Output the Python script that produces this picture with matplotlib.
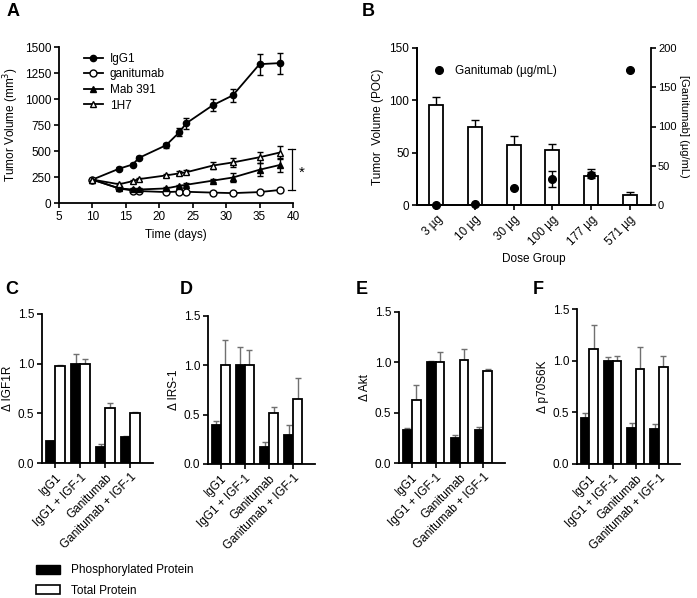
import matplotlib
matplotlib.use("Agg")
import matplotlib.pyplot as plt
from matplotlib.patches import Patch
from matplotlib.lines import Line2D
import numpy as np

plt.rcParams['font.family'] = ['Liberation Sans', 'DejaVu Sans']
plt.rcParams['font.size'] = 8.5
plt.rcParams['axes.linewidth'] = 1.3
plt.rcParams['xtick.major.width'] = 1.2
plt.rcParams['ytick.major.width'] = 1.2
plt.rcParams['xtick.major.size'] = 3.5
plt.rcParams['ytick.major.size'] = 3.5
plt.rcParams['xtick.major.pad'] = 2.5
plt.rcParams['ytick.major.pad'] = 2.0

# ---------------- Panel A data ----------------
days = [10, 14, 16, 17, 21, 23, 24, 28, 31, 35, 38]
igg1 = [225, 330, 370, 435, 555, 680, 765, 940, 1035, 1335, 1345]
igg1_err = [10, 12, 15, 15, 25, 40, 50, 60, 65, 100, 100]
ganitumab = [225, 140, 120, 115, 105, 110, 108, 100, 95, 105, 125]
ganitumab_err = [15, 15, 12, 10, 10, 10, 10, 12, 10, 15, 20]
mab391 = [225, 140, 130, 130, 140, 165, 175, 215, 245, 320, 365]
mab391_err = [10, 10, 10, 10, 10, 12, 15, 15, 40, 65, 70]
h1h7 = [225, 180, 210, 230, 265, 285, 295, 360, 390, 440, 485]
h1h7_err = [10, 12, 15, 15, 15, 20, 20, 30, 40, 55, 65]

# ---------------- Panel B data ----------------
dose_groups = ['3 µg', '10 µg', '30 µg', '100 µg', '177 µg', '571 µg']
poc = [96, 75, 57, 53, 28, 10]
poc_err = [7, 6, 9, 5, 6, 2]
conc = [0, 1, 22, 33, 38, 172]
conc_err = [0, 0, 0, 10, 4, 0]

# ---------------- Panels C-F data ----------------
conditions = ['IgG1', 'IgG1 + IGF-1', 'Ganitumab', 'Ganitumab + IGF-1']
igf1r_phos = [0.22, 1.00, 0.16, 0.26]
igf1r_phos_err = [0.0, 0.10, 0.03, 0.01]
igf1r_tot = [0.98, 1.00, 0.55, 0.50]
igf1r_tot_err = [0.005, 0.05, 0.05, 0.01]
irs1_phos = [0.40, 1.00, 0.17, 0.29]
irs1_phos_err = [0.04, 0.19, 0.05, 0.11]
irs1_tot = [1.00, 1.00, 0.52, 0.66]
irs1_tot_err = [0.26, 0.16, 0.06, 0.21]
akt_phos = [0.33, 1.00, 0.25, 0.33]
akt_phos_err = [0.02, 0.01, 0.03, 0.03]
akt_tot = [0.63, 1.00, 1.02, 0.91]
akt_tot_err = [0.14, 0.10, 0.11, 0.02]
p70_phos = [0.45, 1.00, 0.35, 0.34]
p70_phos_err = [0.04, 0.04, 0.05, 0.05]
p70_tot = [1.11, 1.00, 0.92, 0.94]
p70_tot_err = [0.24, 0.05, 0.21, 0.11]

fig = plt.figure(figsize=(6.97, 5.98), dpi=100)

def W(px):
    return px / 697.0

def H(py):
    return 1 - py / 598.0

# ---------------- Panel A ----------------
axA = fig.add_axes([W(59), H(203), W(293 - 59), H(47) - H(203)])
common = dict(color='black', lw=1.3, capsize=2.5, elinewidth=1.0, capthick=1.0)
axA.errorbar(days, igg1, yerr=igg1_err, marker='o', ms=4.5, mfc='black', mec='black', **common)
axA.errorbar(days, ganitumab, yerr=ganitumab_err, marker='o', ms=5, mfc='white', mec='black', **common)
axA.errorbar(days, mab391, yerr=mab391_err, marker='^', ms=4.5, mfc='black', mec='black', **common)
axA.errorbar(days, h1h7, yerr=h1h7_err, marker='^', ms=5, mfc='white', mec='black', **common)
axA.set_xlim(5, 40)
axA.set_ylim(0, 1500)
axA.set_xticks(range(5, 41, 5))
axA.set_yticks([0, 250, 500, 750, 1000, 1250, 1500])
axA.set_xlabel('Time (days)', fontsize=8.5)
axA.set_ylabel('Tumor Volume (mm$^3$)', fontsize=8.5, labelpad=3)
for s in ['top', 'right']:
    axA.spines[s].set_visible(False)
legA = [
    Line2D([], [], color='black', lw=1.3, marker='o', ms=4.5, mfc='black'),
    Line2D([], [], color='black', lw=1.3, marker='o', ms=5, mfc='white'),
    Line2D([], [], color='black', lw=1.3, marker='^', ms=4.5, mfc='black'),
    Line2D([], [], color='black', lw=1.3, marker='^', ms=5, mfc='white'),
]
axA.legend(legA, ['IgG1', 'ganitumab', 'Mab 391', '1H7'], loc='upper left', frameon=False,
           fontsize=8.5, handlelength=1.6, bbox_to_anchor=(0.06, 1.03), labelspacing=0.3,
           handletextpad=0.6)
# significance bracket
axA.plot([39.8, 39.8], [122, 515], color='black', lw=0.9, clip_on=False)
axA.plot([39.25, 40.35], [515, 515], color='black', lw=0.9, clip_on=False)
axA.plot([39.25, 40.35], [122, 122], color='black', lw=0.9, clip_on=False)
axA.text(41.3, 290, '*', fontsize=11, ha='center', va='center', clip_on=False)

# ---------------- Panel B ----------------
axB = fig.add_axes([W(417), H(205), W(651 - 417), H(48) - H(205)])
xb = np.arange(len(dose_groups))
axB.bar(xb, poc, width=0.36, color='white', edgecolor='black', linewidth=1.3, zorder=2)
axB.errorbar(xb, poc, yerr=[np.zeros(len(poc)), poc_err], fmt='none', ecolor='black',
             elinewidth=1.0, capsize=3, capthick=1.0, zorder=1)
axB.set_ylim(0, 150)
axB.set_yticks([0, 50, 100, 150])
axB.set_xlim(-0.5, 5.55)
axB.set_xticks(xb)
axB.set_xticklabels(dose_groups, rotation=45, ha='right', rotation_mode='anchor')
axB.set_xlabel('Dose Group', fontsize=8.5)
axB.set_ylabel('Tumor  Volume (POC)', fontsize=8.5)
axB.spines['top'].set_visible(False)
axB.spines['right'].set_visible(False)
axB2 = axB.twinx()
axB2.errorbar(xb, conc, yerr=conc_err, fmt='o', color='black', ms=5.5, elinewidth=1.0,
              capsize=3, capthick=1.0, clip_on=False, zorder=5)
axB2.set_ylim(0, 200)
axB2.set_yticks([0, 50, 100, 150, 200])
axB2.tick_params(axis='y', pad=1.5, labelsize=8)
axB2.set_ylabel('[Ganitumab] (µg/mL)', fontsize=8, rotation=-90, labelpad=9)
axB2.spines['top'].set_visible(False)
axB2.spines['right'].set_linewidth(1.3)
axB2.legend([Line2D([], [], marker='o', color='black', ls='none', ms=5.5)], ['Ganitumab (µg/mL)'],
            loc='upper left', frameon=False, fontsize=8.5, bbox_to_anchor=(0.0, 0.96),
            handletextpad=0.3)

# ---------------- Panels C-F ----------------
panels = [
    ('Δ IGF1R', igf1r_phos, igf1r_phos_err, igf1r_tot, igf1r_tot_err, (42, 153, 314, 463)),
    ('Δ IRS-1', irs1_phos, irs1_phos_err, irs1_tot, irs1_tot_err, (208, 315, 316, 464)),
    ('Δ Akt', akt_phos, akt_phos_err, akt_tot, akt_tot_err, (399, 505, 312, 463)),
    ('Δ p70S6K', p70_phos, p70_phos_err, p70_tot, p70_tot_err, (577, 680, 309, 464)),
]
xc = np.arange(len(conditions))
bw = 0.37
for ylabel, ph, phe, tt, tte, (l, r, t, b) in panels:
    ax = fig.add_axes([W(l), H(b), W(r - l), H(t) - H(b)])
    ax.bar(xc - bw / 2, ph, width=bw, color='black', edgecolor='black', linewidth=1.3, zorder=2)
    ax.bar(xc + bw / 2, tt, width=bw, color='white', edgecolor='black', linewidth=1.3, zorder=2)
    ax.errorbar(xc - bw / 2, ph, yerr=[np.zeros(4), phe], fmt='none', ecolor='#707070',
                elinewidth=1.0, capsize=2.5, capthick=1.0, zorder=1)
    ax.errorbar(xc + bw / 2, tt, yerr=[np.zeros(4), tte], fmt='none', ecolor='#707070',
                elinewidth=1.0, capsize=2.5, capthick=1.0, zorder=1)
    ax.set_ylim(0, 1.5)
    ax.set_yticks([0.0, 0.5, 1.0, 1.5])
    ax.set_yticklabels(['0.0', '0.5', '1.0', '1.5'])
    ax.set_xlim(-0.53, 3.9)
    ax.set_xticks(xc)
    ax.set_xticklabels(conditions, rotation=45, ha='right', rotation_mode='anchor')
    ax.set_ylabel(ylabel, fontsize=8.5, labelpad=3)
    for s in ['top', 'right']:
        ax.spines[s].set_visible(False)

# panel letters
for letter, px, py in [('A', 13, 12), ('B', 368, 12), ('C', 12, 290), ('D', 186, 290),
                       ('E', 362, 290), ('F', 538, 290)]:
    fig.text(W(px), H(py), letter, fontsize=13, fontweight='bold', ha='center', va='center')

# bottom legend
fig.legend([Patch(facecolor='black', edgecolor='black'), Patch(facecolor='white', edgecolor='black', linewidth=1.2)],
           ['Phosphorylated Protein', 'Total Protein'],
           loc='lower left', bbox_to_anchor=(W(36), H(597)), frameon=False, fontsize=8.5,
           handlelength=2.0, handleheight=0.8, handletextpad=1.0, labelspacing=0.75,
           borderaxespad=0.0, borderpad=0.0)

fig.savefig('out.png', dpi=100)
